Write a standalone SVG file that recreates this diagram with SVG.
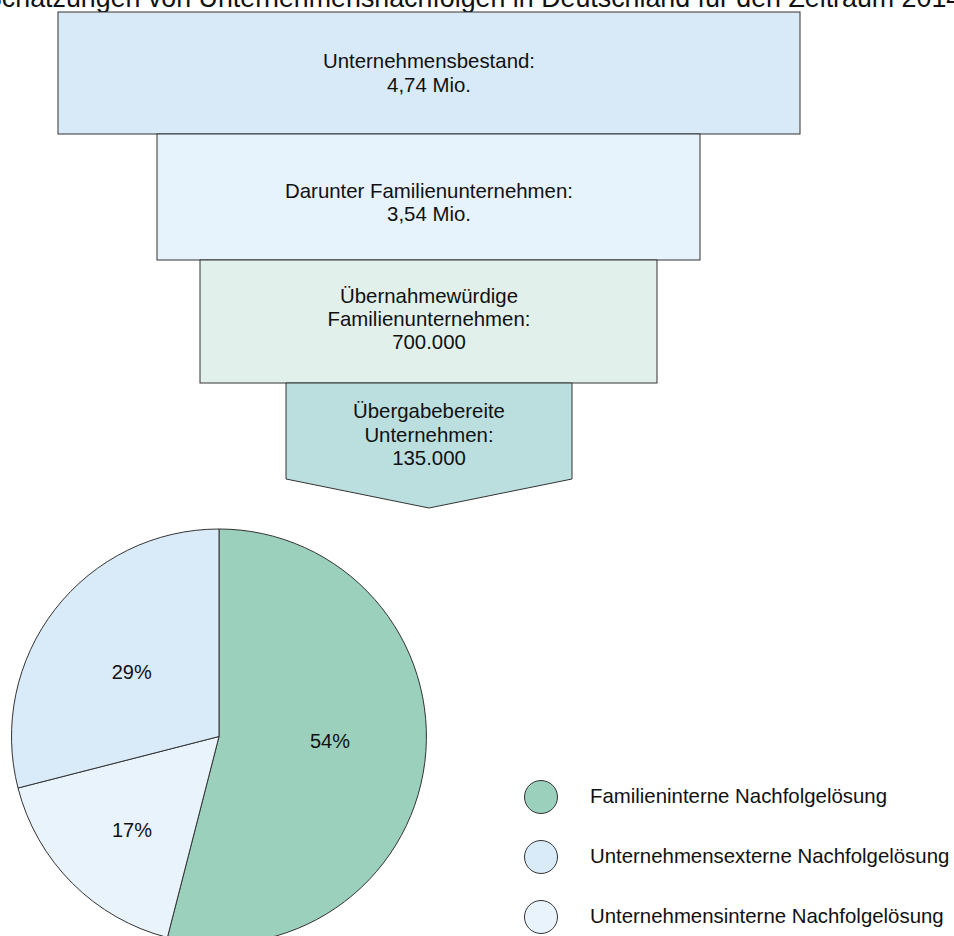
<svg xmlns="http://www.w3.org/2000/svg" width="954" height="936" viewBox="0 0 954 936">
<style>
text{font-family:"Liberation Sans",Arial,sans-serif;fill:#111;}
.t{font-size:20.4px;text-anchor:middle;}
.p{font-size:20px;text-anchor:middle;}
.lg{font-size:20.4px;}
.s{stroke:#333;stroke-width:1;}
</style>
<rect width="954" height="936" fill="#fff"/>
<text x="-16" y="7" style="font-size:26.8px">Schätzungen von Unternehmensnachfolgen in Deutschland für den Zeitraum 2014</text>
<g id="box1"><rect class="s" x="58" y="12" width="742" height="122" fill="#d8eaf8"/>
<text class="t" x="429" y="68">Unternehmensbestand:</text><text class="t" x="429" y="92">4,74 Mio.</text></g>
<g id="box2"><rect class="s" x="157" y="134" width="543" height="126" fill="#e6f2fc"/>
<text class="t" x="429" y="198">Darunter Familienunternehmen:</text><text class="t" x="429" y="221">3,54 Mio.</text></g>
<g id="box3"><rect class="s" x="200" y="260" width="457" height="123" fill="#e2f0ec"/>
<text class="t" x="429" y="303">Übernahmewürdige</text><text class="t" x="429" y="326">Familienunternehmen:</text><text class="t" x="429" y="349">700.000</text></g>
<g id="box4"><path class="s" d="M286 383 H572 V479 L429 508 L286 479 Z" fill="#bbdfdf"/>
<text class="t" x="429" y="418">Übergabebereite</text><text class="t" x="429" y="441.5">Unternehmen:</text><text class="t" x="429" y="465">135.000</text></g>
<g id="pie">
<path class="s" d="M219 736.5 V529 A207.5 207.5 0 1 1 167.4 937.5 Z" fill="#9bd0bd"/>
<path class="s" d="M219 736.5 L167.4 937.5 A207.5 207.5 0 0 1 18 788 Z" fill="#e8f3fc"/>
<path class="s" d="M219 736.5 L18 788 A207.5 207.5 0 0 1 219 529 Z" fill="#d9ebf8"/>
<text class="p" x="131.7" y="679">29%</text>
<text class="p" x="132" y="836.5">17%</text>
<text class="p" x="330" y="747.5">54%</text>
</g>
<g id="legend">
<circle class="s" cx="541" cy="797" r="16.5" fill="#9bd0bd"/>
<text class="lg" x="590" y="803.3">Familieninterne Nachfolgelösung</text>
<circle class="s" cx="541" cy="857" r="16.5" fill="#d9ebf8"/>
<text class="lg" x="590" y="863.3">Unternehmensexterne Nachfolgelösung</text>
<circle class="s" cx="541" cy="917" r="16.5" fill="#e8f3fc"/>
<text class="lg" x="590" y="923.3">Unternehmensinterne Nachfolgelösung</text>
</g>
</svg>
